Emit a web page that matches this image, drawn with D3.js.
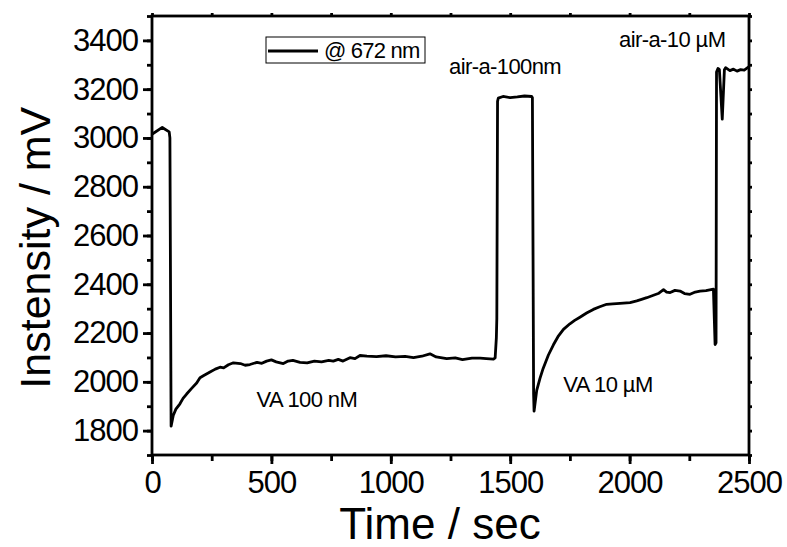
<!DOCTYPE html>
<html>
<head>
<meta charset="utf-8">
<script src="https://cdn.jsdelivr.net/npm/d3@7"></script>
<style>
  body { margin: 0; background: #fff; }
  text { font-family: "Liberation Sans", Arial, sans-serif; fill: #000; }
</style>
</head>
<body>
<svg id="chart" width="787" height="547"></svg>
<script>
// time (sec) and intensity (mV)
const timeSec = [
  0, 43, 72, 75, 80, 89, 100, 117, 130, 145, 165, 187, 201, 215, 243, 265, 285, 300, 320, 341,
  370, 390, 410, 440, 460, 480, 500, 520, 550, 570, 590, 620, 650, 680, 710, 740, 759, 780, 800, 829,
  850, 871, 900, 940, 980, 1020, 1060, 1095, 1130, 1164, 1190, 1234, 1270, 1300, 1340, 1374, 1400, 1430, 1437, 1442,
  1444, 1447, 1450, 1470, 1500, 1530, 1560, 1590, 1593, 1598, 1600, 1611, 1625, 1638, 1660, 1681, 1700, 1723, 1750, 1770,
  1792, 1820, 1848, 1875, 1904, 1930, 1960, 2002, 2030, 2050, 2072, 2100, 2120, 2142, 2155, 2170, 2190, 2211, 2230, 2253,
  2275, 2295, 2320, 2351, 2358, 2362, 2364, 2370, 2376, 2388, 2397, 2402, 2420, 2435, 2450, 2465, 2480, 2490, 2500
];
const intensityMV = [
  3015, 3043, 3025, 3000, 1818, 1862, 1888, 1910, 1932, 1950, 1972, 1995, 2017, 2025, 2040, 2052, 2060, 2057, 2070, 2078,
  2075, 2068, 2071, 2080, 2076, 2085, 2090, 2082, 2075, 2085, 2088, 2080, 2078, 2085, 2082, 2088, 2085, 2092, 2085, 2099,
  2095, 2108, 2105, 2103, 2107, 2102, 2104, 2099, 2105, 2115, 2102, 2095, 2098, 2091, 2097, 2097, 2095, 2093, 2098, 2180,
  2260, 3150, 3163, 3170, 3165, 3168, 3172, 3170, 3165, 1950, 1880, 1965, 2015, 2055, 2110, 2152, 2185, 2215, 2238, 2252,
  2265, 2282, 2297, 2308, 2318, 2320, 2322, 2325, 2332, 2338, 2345, 2355, 2362, 2378, 2368, 2366, 2375, 2372, 2362, 2359,
  2368, 2372, 2374, 2380, 2153, 2160, 3270, 3285, 3280, 3077, 3280, 3288, 3276, 3282, 3274, 3280, 3278, 3285, 3292
];

const xTicks = [0, 500, 1000, 1500, 2000, 2500];
const yTicks = [1800, 2000, 2200, 2400, 2600, 2800, 3000, 3200, 3400];
const legendLabel = "@ 672 nm";
const notes = [
  { text: "VA 100 nM", t: 438, v: 1898 },
  { text: "VA 10 \u00b5M", t: 1722, v: 1960 },
  { text: "air-a-100nm", t: 1244, v: 3262 },
  { text: "air-a-10 \u00b5M", t: 1956, v: 3372 }
];

const svg = d3.select("#chart");
const margin = { left: 152, top: 16, right: 38, bottom: 92 };
const width = 787 - margin.left - margin.right;
const height = 547 - margin.top - margin.bottom;

const x = d3.scaleLinear().domain([0, 2500]).range([0, width]);
const y = d3.scaleLinear().domain([1700, 3500]).range([height, 0]);

const g = svg.append("g").attr("transform", `translate(${margin.left},${margin.top})`);

// minor ticks first, then major axes on top
const minorX = d3.range(0, 2501, 250);
const minorY = d3.range(1700, 3501, 100);

function styleAxis(sel) {
  sel.selectAll(".domain").remove();
  sel.selectAll(".tick line").attr("stroke", "#000").attr("stroke-width", 2.8);
  sel.selectAll(".tick text")
    .style("font-size", "31px")
    .style("letter-spacing", "-1px");
}

g.append("g").attr("transform", `translate(0,${height})`)
  .call(d3.axisBottom(x).tickValues(minorX).tickSize(6).tickFormat(""))
  .call(styleAxis);
g.append("g")
  .call(d3.axisLeft(y).tickValues(minorY).tickSize(5).tickFormat(""))
  .call(styleAxis);

g.append("g").attr("transform", `translate(0,${height})`)
  .call(d3.axisBottom(x).tickValues(xTicks).tickSize(9).tickPadding(7).tickFormat(d3.format("d")))
  .call(styleAxis);
g.append("g")
  .call(d3.axisLeft(y).tickValues(yTicks).tickSize(9).tickPadding(5).tickFormat(d3.format("d")))
  .call(styleAxis);

// top and right axes: small outward ticks, no labels
g.append("g")
  .call(d3.axisTop(x).tickValues(minorX).tickSize(3).tickFormat(""))
  .call(styleAxis);
g.append("g").attr("transform", `translate(${width},0)`)
  .call(d3.axisRight(y).tickValues(minorY).tickSize(3).tickFormat(""))
  .call(styleAxis);

// frame
g.append("rect")
  .attr("width", width)
  .attr("height", height)
  .attr("fill", "none")
  .attr("stroke", "#000")
  .attr("stroke-width", 2.8);

// trace
const line = d3.line()
  .x((d, i) => x(timeSec[i]))
  .y(d => y(d));

g.append("path")
  .datum(intensityMV)
  .attr("d", line)
  .attr("fill", "none")
  .attr("stroke", "#000")
  .attr("stroke-width", 2.8)
  .attr("stroke-linejoin", "round");

// annotations
g.selectAll(".note")
  .data(notes)
  .enter()
  .append("text")
  .attr("class", "note")
  .attr("x", d => x(d.t))
  .attr("y", d => y(d.v))
  .style("font-size", "22px")
  .style("letter-spacing", "-0.6px")
  .text(d => d.text);

// legend
const legend = svg.append("g").attr("transform", "translate(266,37)");
legend.append("rect")
  .attr("width", 159)
  .attr("height", 26)
  .attr("fill", "#fff")
  .attr("stroke", "#000")
  .attr("stroke-width", 1);
legend.append("line")
  .attr("x1", 2).attr("x2", 52)
  .attr("y1", 14).attr("y2", 14)
  .attr("stroke", "#000")
  .attr("stroke-width", 2.8);
legend.append("text")
  .attr("x", 58)
  .attr("y", 21)
  .style("font-size", "22px")
  .style("letter-spacing", "-0.8px")
  .text(legendLabel);

// axis titles
svg.append("text")
  .attr("x", margin.left + x(1206))
  .attr("y", 539)
  .attr("text-anchor", "middle")
  .style("font-size", "44px")
  .text("Time / sec");

svg.append("text")
  .attr("transform", `translate(50,${margin.top + y(2550)}) rotate(-90)`)
  .attr("text-anchor", "middle")
  .style("font-size", "43px")
  .text("Instensity / mV");
</script>
</body>
</html>
